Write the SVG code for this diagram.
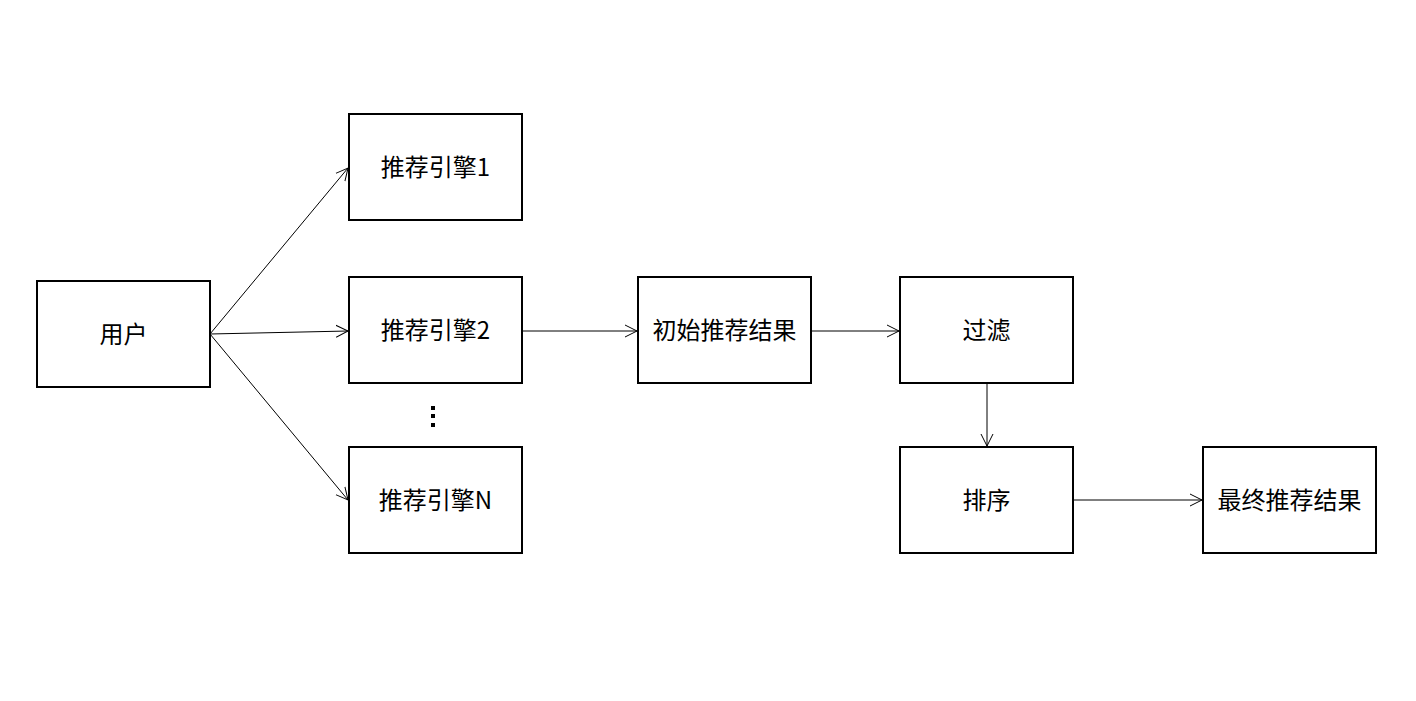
<svg xmlns="http://www.w3.org/2000/svg" width="1416" height="701" viewBox="0 0 1416 701">
<style>
.box{fill:#fff;stroke:#000;stroke-width:2}
.t{font-family:"Noto Sans CJK SC","Noto Sans",sans-serif;font-size:24px;fill:#000;text-anchor:middle;dominant-baseline:central}
.c{stroke:#000;stroke-width:1;fill:none;marker-end:url(#a)}
</style>
<defs>
<marker id="a" markerWidth="14" markerHeight="14" refX="12" refY="6" orient="auto" markerUnits="userSpaceOnUse" viewBox="0 0 14 12">
<path d="M0,0 L12,6 L0,12" fill="none" stroke="#000" stroke-width="1"/>
</marker>
</defs>
<rect width="1416" height="701" fill="#fff"/>
<g id="connectors">
<line class="c" x1="210" y1="334" x2="348" y2="168"/>
<line class="c" x1="210" y1="334" x2="348" y2="331"/>
<line class="c" x1="210" y1="334" x2="348" y2="500"/>
<line class="c" x1="522" y1="331" x2="637" y2="331"/>
<line class="c" x1="811" y1="331" x2="899" y2="331"/>
<line class="c" x1="987" y1="383" x2="987" y2="446"/>
<line class="c" x1="1073" y1="500" x2="1202" y2="500"/>
</g>
<g id="user"><rect class="box" x="37" y="281" width="173" height="106"/><text class="t" x="123.5" y="332">用户</text></g>
<g id="engine1"><rect class="box" x="349" y="114" width="173" height="106"/><text class="t" x="435.5" y="165">推荐引擎1</text></g>
<g id="engine2"><rect class="box" x="349" y="277" width="173" height="106"/><text class="t" x="435.5" y="328">推荐引擎2</text></g>
<g id="dots"><rect x="431" y="406" width="4" height="4" fill="#000"/><rect x="431" y="414" width="4" height="4" fill="#000"/><rect x="431" y="423" width="4" height="4" fill="#000"/></g>
<g id="engineN"><rect class="box" x="349" y="447" width="173" height="106"/><text class="t" x="435.5" y="498">推荐引擎N</text></g>
<g id="initial"><rect class="box" x="638" y="277" width="173" height="106"/><text class="t" x="724.5" y="328">初始推荐结果</text></g>
<g id="filter"><rect class="box" x="900" y="277" width="173" height="106"/><text class="t" x="986.5" y="328">过滤</text></g>
<g id="sort"><rect class="box" x="900" y="447" width="173" height="106"/><text class="t" x="986.5" y="498">排序</text></g>
<g id="final"><rect class="box" x="1203" y="447" width="173" height="106"/><text class="t" x="1289.5" y="498">最终推荐结果</text></g>
</svg>
